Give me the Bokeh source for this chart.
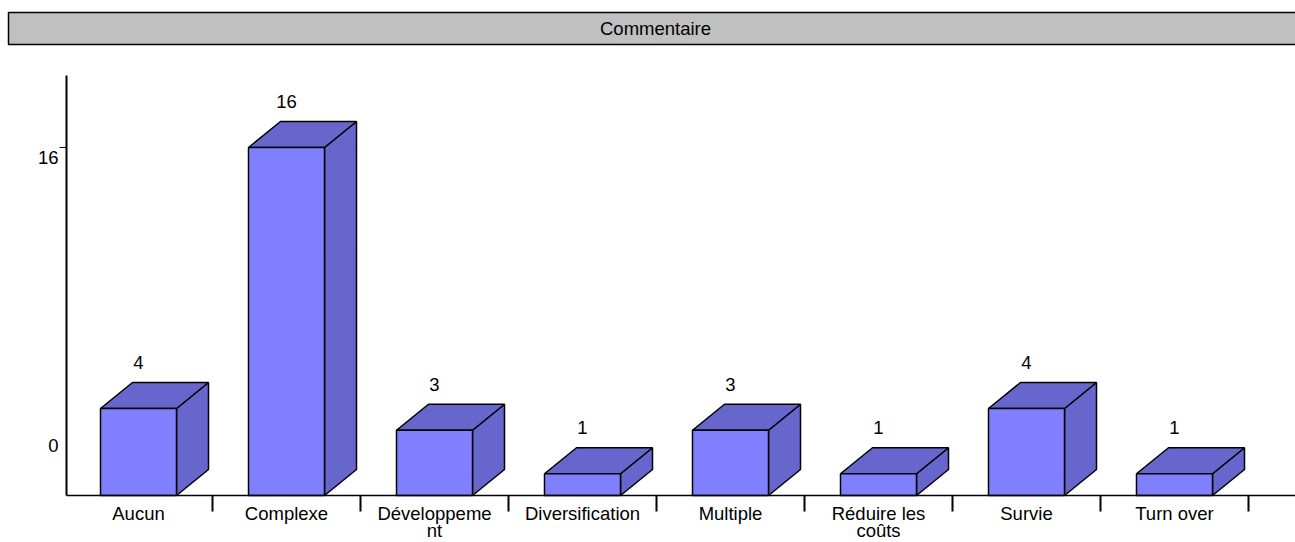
from bokeh.plotting import figure
from bokeh.models import Range1d, FixedTicker, LabelSet, Label, ColumnDataSource, LinearAxis, BoxAnnotation
from bokeh.core.properties import value
from bokeh.embed import file_html
from bokeh.resources import INLINE

# ---------------- data ----------------
title_text = "Commentaire"
categories = ["Aucun", "Complexe", "Développement", "Diversification",
              "Multiple", "Réduire les coûts", "Survie", "Turn over"]
category_labels = ["Aucun", "Complexe", "Développeme\nnt", "Diversification",
                   "Multiple", "Réduire les\ncoûts", "Survie", "Turn over"]
counts = [4, 16, 3, 1, 3, 1, 4, 1]
y_tick_values = [0, 16]
y_tick_labels = ["0", "16"]

# ---------------- style / layout (pixels) ----------------
FONT = "Liberation Sans"
FS = "18.5px"
W, H = 1295, 542
AXIS_X_PX = 66          # y-axis line position
AXIS_Y_PX = 495         # x-axis line (baseline) position
AXIS_TOP_PX = 75        # top of y-axis line
SLOT_PX = 148.0         # width of one category
FIRST_CENTER_PX = 138.0
PX_PER_UNIT = 21.75
BAR_W_PX = 76.0
DX_PX, DY_PX = 32.0, 26.0
FRONT = "#8080FF"
SIDE = "#6666CC"
TITLE_BOX = dict(left=8, right=1300, top=12, bottom=44)


def px2x(px):
    return (px - FIRST_CENTER_PX) / SLOT_PX


def py2y(py):
    return (AXIS_Y_PX - py) / PX_PER_UNIT


p = figure(width=W, height=H,
           x_range=Range1d(px2x(0), px2x(W)), y_range=Range1d(py2y(H), py2y(0)),
           x_axis_type=None, y_axis_type=None, output_backend="svg",
           toolbar_location=None, min_border=0, min_border_left=0,
           min_border_right=0, min_border_top=0, min_border_bottom=0)
p.grid.visible = False
p.outline_line_color = None
p.background_fill_color = "white"
p.border_fill_color = "white"

# title bar
p.add_layout(BoxAnnotation(left=px2x(TITLE_BOX["left"]), right=px2x(TITLE_BOX["right"]),
                           top=py2y(TITLE_BOX["top"]), bottom=py2y(TITLE_BOX["bottom"]),
                           fill_color="#C0C0C0", fill_alpha=1.0,
                           line_color="black", line_width=1.5, line_alpha=1.0))
p.add_layout(Label(x=px2x(655), y=py2y(28), text=title_text,
                   text_align="center", text_baseline="middle",
                   text_font=FONT, text_font_size=FS, text_color="black"))

n = len(categories)
xs_idx = list(range(n))
bw = BAR_W_PX / SLOT_PX
dx = DX_PX / SLOT_PX
dy = DY_PX / PX_PER_UNIT

lefts = [i - bw / 2 for i in xs_idx]
rights = [i + bw / 2 for i in xs_idx]

side_xs, side_ys, top_xs, top_ys = [], [], [], []
for L, R, v in zip(lefts, rights, counts):
    side_xs.append([R, R + dx, R + dx, R])
    side_ys.append([0, dy, v + dy, v])
    top_xs.append([L, L + dx, R + dx, R])
    top_ys.append([v, v + dy, v + dy, v])

p.patches(side_xs, side_ys, fill_color=SIDE, line_color="black", line_width=1.5)
p.patches(top_xs, top_ys, fill_color=SIDE, line_color="black", line_width=1.5)
p.quad(left=lefts, right=rights, bottom=0, top=counts, fill_color=FRONT,
       line_color="black", line_width=1.5)

# value labels
vsrc = ColumnDataSource(dict(x=xs_idx, y=counts, text=[str(c) for c in counts]))
p.add_layout(LabelSet(x="x", y="y", text="text", source=vsrc, y_offset=DY_PX + 20,
                      text_align="center", text_baseline="middle",
                      text_font=value(FONT), text_font_size=FS, text_color="black"))

# x axis (placed inside the frame on the baseline)
xaxis = LinearAxis(ticker=FixedTicker(ticks=xs_idx, minor_ticks=[i + 0.5 for i in xs_idx]),
                   fixed_location=0, bounds=(px2x(AXIS_X_PX), px2x(W)))
xaxis.major_label_overrides = {i: lab for i, lab in zip(xs_idx, category_labels)}
xaxis.major_tick_out = 0
xaxis.major_tick_in = 0
xaxis.minor_tick_out = 16
xaxis.minor_tick_in = 0
xaxis.minor_tick_line_width = 2
xaxis.minor_tick_line_color = "black"
xaxis.axis_line_color = "black"
xaxis.axis_line_width = 1.5
xaxis.major_label_standoff = -9
xaxis.major_label_text_font = FONT
xaxis.major_label_text_font_size = FS
xaxis.major_label_text_color = "black"
xaxis.major_label_text_line_height = 0.85
p.add_layout(xaxis, "below")

# y axis (tick mark only where it is visible: the zero tick sits on the baseline)
yaxis = LinearAxis(ticker=FixedTicker(ticks=[v for v in y_tick_values if v > 0], minor_ticks=[]),
                   fixed_location=px2x(AXIS_X_PX), bounds=(0, py2y(AXIS_TOP_PX)))
yaxis.major_tick_out = 7
yaxis.major_tick_in = 0
yaxis.major_tick_line_color = "black"
yaxis.major_tick_line_width = 1
yaxis.axis_line_color = "black"
yaxis.axis_line_width = 2
yaxis.major_label_text_font_size = "0px"
yaxis.major_label_text_alpha = 0
yaxis.major_label_standoff = 0
p.add_layout(yaxis, "left")

y_label_offsets = [50, -10]
for yv, lab, off in zip(y_tick_values, y_tick_labels, y_label_offsets):
    p.add_layout(Label(x=px2x(AXIS_X_PX), y=yv, text=lab, x_offset=-8, y_offset=off,
                       text_align="right", text_baseline="middle",
                       text_font=FONT, text_font_size=FS, text_color="black"))

open("out.html", "w").write(file_html(p, INLINE))
